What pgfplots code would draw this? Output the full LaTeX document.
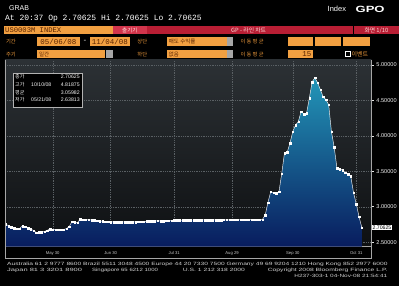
\documentclass[border=0pt]{standalone}
\usepackage{fontspec}
\setmainfont{Liberation Sans}
\newfontfamily\kr{Noto Sans CJK KR}
\newfontfamily\mono{Liberation Mono}
\usepackage{graphicx}
\usepackage{pgfplots}
\usepackage{pgfplotstable}
\pgfplotsset{compat=1.18}

\definecolor{bbor}{HTML}{F2A041}
\definecolor{bbred}{HTML}{B81E34}
\definecolor{bbred2}{HTML}{D2354C}
\definecolor{bbtxt}{HTML}{5A2300}
\definecolor{bblab}{HTML}{E8963A}
\definecolor{bgtop}{HTML}{2C3135}
\definecolor{bgbot}{HTML}{0E1012}
\definecolor{ftop}{HTML}{2396B8}
\definecolor{fmid}{HTML}{0D5088}
\definecolor{fbot}{HTML}{081C5E}
\definecolor{foot}{HTML}{D0D0D0}
\definecolor{gridc}{HTML}{5A6064}

\pgfplotstableread{
i v
1 2.756
2 2.730
3 2.715
4 2.700
5 2.695
6 2.690
7 2.730
8 2.720
9 2.700
10 2.685
11 2.665
12 2.63813
13 2.640
14 2.640
15 2.650
16 2.665
17 2.686
18 2.680
19 2.680
20 2.678
21 2.676
22 2.680
23 2.690
24 2.720
25 2.790
26 2.780
27 2.775
28 2.827
29 2.820
30 2.817
31 2.815
32 2.812
33 2.810
34 2.806
35 2.800
36 2.795
37 2.790
38 2.788
39 2.786
40 2.786
41 2.786
42 2.785
43 2.785
44 2.784
45 2.784
46 2.785
47 2.786
48 2.786
49 2.788
50 2.789
51 2.791
52 2.794
53 2.797
54 2.800
55 2.800
56 2.801
57 2.800
58 2.799
59 2.801
60 2.803
61 2.806
62 2.808
63 2.810
64 2.811
65 2.811
66 2.811
67 2.812
68 2.812
69 2.812
70 2.813
71 2.813
72 2.813
73 2.813
74 2.813
75 2.813
76 2.813
77 2.814
78 2.814
79 2.814
80 2.815
81 2.815
82 2.815
83 2.815
84 2.815
85 2.815
86 2.816
87 2.816
88 2.816
89 2.817
90 2.817
91 2.817
92 2.818
93 2.819
94 2.820
95 2.880
96 3.060
97 3.210
98 3.200
99 3.190
100 3.210
101 3.470
102 3.760
103 3.770
104 3.900
105 4.060
106 4.150
107 4.200
108 4.340
109 4.310
110 4.320
111 4.530
112 4.760
113 4.81875
114 4.750
115 4.650
116 4.550
117 4.510
118 4.440
119 4.060
120 3.840
121 3.545
122 3.530
123 3.520
124 3.480
125 3.460
126 3.430
127 3.200
128 3.040
129 2.860
130 2.70625
}\libor

\begin{document}
\begin{tikzpicture}[x=1pt,y=1pt]
\fill[black] (0,0) rectangle (400,286);

\begin{axis}[
  at={(5pt,39pt)}, anchor=south west,
  width=367pt, height=187pt, scale only axis,
  xmin=0.72, xmax=133.5, ymin=2.4366, ymax=5.0704,
  axis x line*=bottom, axis y line*=right,
  axis line style={color=gray!70, line width=0.4pt},
  axis background/.style={top color=bgtop, bottom color=bgbot},
  xtick={18,39,62,83,105,128},
  xticklabels={May 30,Jun 30,Jul 31,Aug 29,Sep 30,Oct 31},
  x tick label style={font=\fontsize{4.2}{5}\selectfont, text=gray!45!white, yshift=1pt},
  xtick style={draw=none},
  ytick={2.5,3,3.5,4,4.5,5},
  yticklabel pos=right,
  y tick label style={font=\fontsize{5.6}{6}\selectfont, text=white!90!gray, xshift=-1pt},
  ytick style={color=white!80!gray, line width=0.4pt},
  tick align=outside, major tick length=2.5pt,
  /pgf/number format/.cd, fixed, fixed zerofill, precision=5, assume math mode=true,
  /pgfplots/.cd,
  grid=major,
  major grid style={dash pattern=on 0.6pt off 1.2pt, color=gridc, line width=0.3pt},
  clip=false,
]
\addplot[draw=none, top color=ftop, middle color=fmid, bottom color=fbot, forget plot]
  table[x=i,y=v]{\libor} -- (axis cs:130,2.4366) -- (axis cs:1,2.4366) -- cycle;
\addplot[color=white!92!gray, line width=0.45pt, mark=square*, mark size=0.75pt,
  mark options={fill=white, draw=white, line width=0.1pt}]
  table[x=i,y=v]{\libor};
\node[fill=white, text=black, font=\fontsize{5.2}{5.5}\selectfont, inner sep=0.7pt, anchor=west]
  at (axis cs:133.6,2.70625) {2.70625};
\end{axis}

\begin{scope}[y=-1pt, yshift=286pt]
% frame
\draw[gray!70, line width=0.4pt] (5,60) -- (5,259) -- (372,259) -- (372,247);
% title lines
\node[anchor=west, inner sep=0, font=\fontsize{7}{7}\selectfont, text=white] at (9,8.5) {GRAB};
\node[anchor=base west, inner sep=0, font=\mono\fontsize{8}{8}\selectfont, text=white] at (5,21) {At 20:37  Op 2.70625 Hi 2.70625 Lo 2.70625};
\node[anchor=west, inner sep=0, font=\fontsize{7.5}{8}\selectfont, text=white] at (328,9) {Index};
\node[anchor=west, inner sep=0, text=white] at (356,9) {\resizebox{29pt}{6.3pt}{\bfseries GPO}};
% row 1
\fill[bbor] (4,26) rectangle (113,34.5);
\node[anchor=west, inner sep=0, font=\mono\fontsize{7.2}{7}\selectfont, text=bbtxt] at (5,30.3) {US0003M INDEX};
\fill[bbred2] (113,26) rectangle (147,34.5);
\node[inner sep=0, font=\kr\fontsize{5.5}{6}\selectfont, text=white!85!red] at (130,30.3) {출기기};
\fill[bbred] (147,26) rectangle (354,34.5);
\node[inner sep=0, font=\kr\fontsize{5.8}{6}\selectfont, text=white!85!red] at (249,30.3) {GP - 라인 차트};
\fill[bbred] (355,26) rectangle (400,34.5);
\node[inner sep=0, font=\kr\fontsize{5.8}{6}\selectfont, text=white!85!red] at (377,30.3) {화면 1/10};
% row 2
\node[inner sep=0, font=\kr\fontsize{5.3}{6}\selectfont, text=bblab] at (11,41.5) {기간};
\fill[bbor] (37,37) rectangle (80,46);
\node[inner sep=0, font=\mono\fontsize{7.5}{7}\selectfont, text=bbtxt] at (58.5,41.7) {05/06/08};
\node[inner sep=0, font=\mono\fontsize{7}{7}\selectfont, text=white] at (85,41.5) {-};
\fill[bbor] (90,37) rectangle (130,46);
\node[inner sep=0, font=\mono\fontsize{7.5}{7}\selectfont, text=bbtxt] at (110,41.7) {11/04/08};
\node[inner sep=0, font=\kr\fontsize{5.3}{6}\selectfont, text=bblab] at (142.5,41.5) {상단};
\fill[bbor] (167,37) rectangle (227,46);
\fill[gray!70] (227.5,37) rectangle (233,46);
\node[anchor=west, inner sep=0, font=\kr\fontsize{5.5}{6}\selectfont, text=bbtxt] at (169,41.5) {매도 수익률};
\node[inner sep=0, font=\kr\fontsize{5.3}{6}\selectfont, text=bblab] at (252.5,41.5) {이 동 평 균};
\fill[bbor] (288,37) rectangle (313,46);
\fill[bbor] (315,37) rectangle (342,46);
\fill[bbor] (344,37) rectangle (371,46);
% row 3
\node[inner sep=0, font=\kr\fontsize{5.3}{6}\selectfont, text=bblab] at (11,54.5) {주기};
\fill[bbor] (37,50) rectangle (105.5,58.5);
\fill[gray!70] (106,50) rectangle (113,58.5);
\node[anchor=west, inner sep=0, font=\kr\fontsize{5.5}{6}\selectfont, text=bbtxt] at (39,54.3) {일간};
\node[inner sep=0, font=\kr\fontsize{5.3}{6}\selectfont, text=bblab] at (142.5,54.3) {하단};
\fill[bbor] (167,50) rectangle (227,58.5);
\fill[gray!70] (227.5,50) rectangle (233,58.5);
\node[anchor=west, inner sep=0, font=\kr\fontsize{5.5}{6}\selectfont, text=bbtxt] at (169,54.3) {없음};
\node[inner sep=0, font=\kr\fontsize{5.3}{6}\selectfont, text=bblab] at (252.5,54.3) {이 동 평 균};
\fill[bbor] (288,50) rectangle (313,58.5);
\node[anchor=east, inner sep=0, font=\mono\fontsize{7.5}{7}\selectfont, text=bbtxt] at (312,54.5) {15};
\draw[white, line width=0.4pt] (346,51.5) rectangle (350.5,56.5);
\node[anchor=west, inner sep=0, font=\kr\fontsize{6}{6}\selectfont, text=bblab] at (352,54.2) {이벤트};
% legend box
\draw[gray!60, line width=0.4pt, fill=black] (13,73) rectangle (82,107);
\begin{scope}[every node/.style={inner sep=0, text=white!92!gray, font=\fontsize{5.2}{5.5}\selectfont}]
\node[anchor=west, font=\kr\fontsize{5}{5}\selectfont] at (15,77) {종가};
\node[anchor=east] at (80,77) {2.70625};
\node[anchor=west, font=\kr\fontsize{5}{5}\selectfont] at (15,84.5) {고가};
\node[anchor=west] at (31,84.5) {10/10/08};
\node[anchor=east] at (80,84.5) {4.81875};
\node[anchor=west, font=\kr\fontsize{5}{5}\selectfont] at (15,92.5) {평균};
\node[anchor=east] at (80,92.5) {3.05982};
\node[anchor=west, font=\kr\fontsize{5}{5}\selectfont] at (15,100) {저가};
\node[anchor=west] at (31,100) {05/21/08};
\node[anchor=east] at (80,100) {2.63813};
\end{scope}
% footer
\begin{scope}[every node/.style={inner sep=0, text=foot, font=\fontsize{4.6}{5}\selectfont}]
\node[anchor=west] at (7,264.7) {\resizebox{381pt}{\height}{Australia 61 2 9777 8600 Brazil 5511 3048 4500 Europe 44 20 7330 7500 Germany 49 69 9204 1210 Hong Kong 852 2977 6000}};
\node[anchor=west] at (7,270.7) {\resizebox{75pt}{\height}{Japan 81 3 3201 8900}};
\node[anchor=west] at (92,270.7) {\resizebox{66pt}{\height}{Singapore 65 6212 1000}};
\node[anchor=west] at (183,270.7) {\resizebox{62pt}{\height}{U.S. 1 212 318 2000}};
\node[anchor=west] at (268,270.7) {\resizebox{120pt}{\height}{Copyright 2008 Bloomberg Finance L.P.}};
\node[anchor=east] at (388,276.7) {\resizebox{93pt}{\height}{H237-303-1 04-Nov-08 21:54:41}};
\end{scope}
\end{scope}
\end{tikzpicture}
\end{document}
